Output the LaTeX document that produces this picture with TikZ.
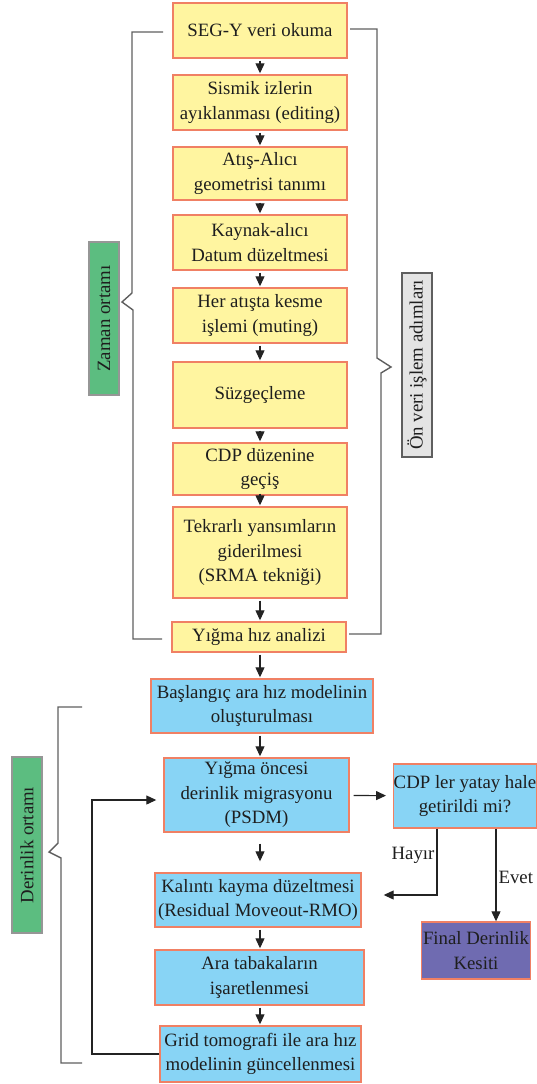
\documentclass[tikz,border=0pt]{standalone}
\usepackage{fontspec}
\setmainfont{Liberation Serif}
\usepackage{tikz}
\usetikzlibrary{arrows.meta, calc}
\definecolor{prefill}{RGB}{255,245,160}
\definecolor{depthfill}{RGB}{136,212,245}
\definecolor{finalfill}{RGB}{111,107,177}
\definecolor{boxedge}{RGB}{240,128,100}
\definecolor{sidegreen}{RGB}{92,189,128}
\definecolor{sidegrey}{RGB}{228,228,228}
\definecolor{sideedge}{RGB}{150,150,150}
\definecolor{bracketclr}{RGB}{95,95,95}
\definecolor{arrowclr}{RGB}{35,35,35}
\definecolor{textclr}{RGB}{30,30,30}
\tikzset{
    stepbase/.style={draw=boxedge, line width=1.4pt, align=center, inner sep=1.5pt, text=textclr, font=\fontsize{18.8}{24.5}\selectfont},
    prestep/.style={stepbase, fill=prefill, minimum width=174pt},
    depthstep/.style={stepbase, fill=depthfill},
    finalstep/.style={stepbase, fill=finalfill},
    sidelbl/.style={line width=1.2pt, rotate=90, minimum height=30pt, inner sep=1pt, text=textclr, font=\fontsize{18.8}{24.5}\selectfont},
    bracket/.style={draw=bracketclr, line width=1.4pt},
}

\begin{document}
\begin{tikzpicture}[
        x=1pt, y=-1pt,
        flow/.style={-{Triangle[length=10pt,width=9pt]}, line width=1.1pt, draw=arrowclr, shorten <=2pt, shorten >=1pt},
        lbl/.style={font=\fontsize{18.8}{24.5}\selectfont, text=textclr, inner sep=2pt},
    ]
        \useasboundingbox (0,0) rectangle (536,1084);
        % on veri islem adimlari
        \node[prestep, minimum height=55pt] (segy)  at (260,30.5)  {SEG-Y veri okuma};
        \node[prestep, minimum height=55pt] (edit)  at (260,102.5) {Sismik izlerin\\ayıklanması (editing)};
        \node[prestep, minimum height=53pt] (geom)  at (260,173.5) {Atış-Alıcı\\geometrisi tanımı};
        \node[prestep, minimum height=55pt] (datum) at (260,242.5) {Kaynak-alıcı\\Datum düzeltmesi};
        \node[prestep, minimum height=55pt] (mute)  at (260,315.5) {Her atışta kesme\\işlemi (muting)};
        \node[prestep, minimum height=66pt] (filt)  at (260,395)   {Süzgeçleme};
        \node[prestep, minimum height=52pt] (cdp)   at (260,469)   {CDP düzenine\\geçiş};
        \node[prestep, minimum height=91pt] (srma)  at (260,552.5) {Tekrarlı yansımların\\giderilmesi\\(SRMA tekniği)};
        \node[prestep, minimum height=30pt] (velan) at (259,637)   {Yığma hız analizi};
        % derinlik ortami
        \node[depthstep, minimum width=222pt, minimum height=54pt] (initv) at (262,706)    {Başlangıç ara hız modelinin\\oluşturulması};
        \node[depthstep, minimum width=185pt, minimum height=74pt] (psdm)  at (256.5,795)  {Yığma öncesi\\derinlik migrasyonu\\(PSDM)};
        \node[depthstep, minimum width=140pt, minimum height=64pt, inner xsep=0pt] (flat) at (465,796) {CDP ler yatay hale\\getirildi mi?};
        \node[depthstep, minimum width=206pt, minimum height=54pt] (rmo)   at (258,900)    {Kalıntı kayma düzeltmesi\\(Residual Moveout-RMO)};
        \node[depthstep, minimum width=209pt, minimum height=55pt] (horz)  at (259.5,977.5) {Ara tabakaların\\işaretlenmesi};
        \node[depthstep, minimum width=201pt, minimum height=56pt] (tomo)  at (260.5,1054) {Grid tomografi ile ara hız\\modelinin güncellenmesi};
        \node[finalstep, minimum width=108pt, minimum height=57pt] (final) at (476,950.5)  {Final Derinlik\\Kesiti};
        % yan etiketler
        \node[sidelbl, fill=sidegreen, draw=sideedge, minimum width=153pt] (zaman)  at (104,318.5) {Zaman ortamı};
        \node[sidelbl, fill=sidegrey, draw=bracketclr, minimum width=184pt] (onveri) at (417,365)  {Ön veri işlem adımları};
        \node[sidelbl, fill=sidegreen, draw=sideedge, minimum width=176pt] (derin)  at (27,845)    {Derinlik ortamı};
        % akis oklari
        \coordinate (colx) at (260,0);
        \coordinate (loopx) at (92,0);
        \foreach \a/\b in {segy/edit, edit/geom, geom/datum, datum/mute, mute/filt, filt/cdp, cdp/srma, srma/velan, velan/initv, initv/psdm, rmo/horz, horz/tomo}
            \draw[flow] (\a.south -| colx) -- (\b.north -| colx);
        \draw[flow, shorten <=11pt, shorten >=11pt] (psdm.south -| colx) -- (rmo.north -| colx);
        \draw[flow, shorten <=4pt, shorten >=7pt] (psdm) -- (flat);
        \draw[flow, shorten <=0pt, shorten >=22pt] ([xshift=-28pt]flat.south) |- ([yshift=5pt]rmo.east) node[lbl, left, pos=0.2] {Hayır};
        \draw[flow, shorten <=0pt, shorten >=0pt] ([xshift=31pt]flat.south) -- ([xshift=20pt]final.north) node[lbl, right, pos=0.53] {Evet};
        \draw[flow, shorten <=0pt, shorten >=7pt] (tomo.west) -- (tomo.west -| loopx) |- ([yshift=-5pt]psdm.west);
        % parantezler
        \draw[bracket] (163,32) -- (132,32) -- (132,293) -- (122,302) -- (133,310) -- (133,639) -- (162,639);
        \draw[bracket] (350,29) -- (377,29) -- (377,358) -- (391,367) -- (381,373) -- (381,634) -- (349,634);
        \draw[bracket] (82,707) -- (58,707) -- (58,843) -- (49,852) -- (61,858) -- (61,1063) -- (82,1063);
    \end{tikzpicture}
\end{document}
